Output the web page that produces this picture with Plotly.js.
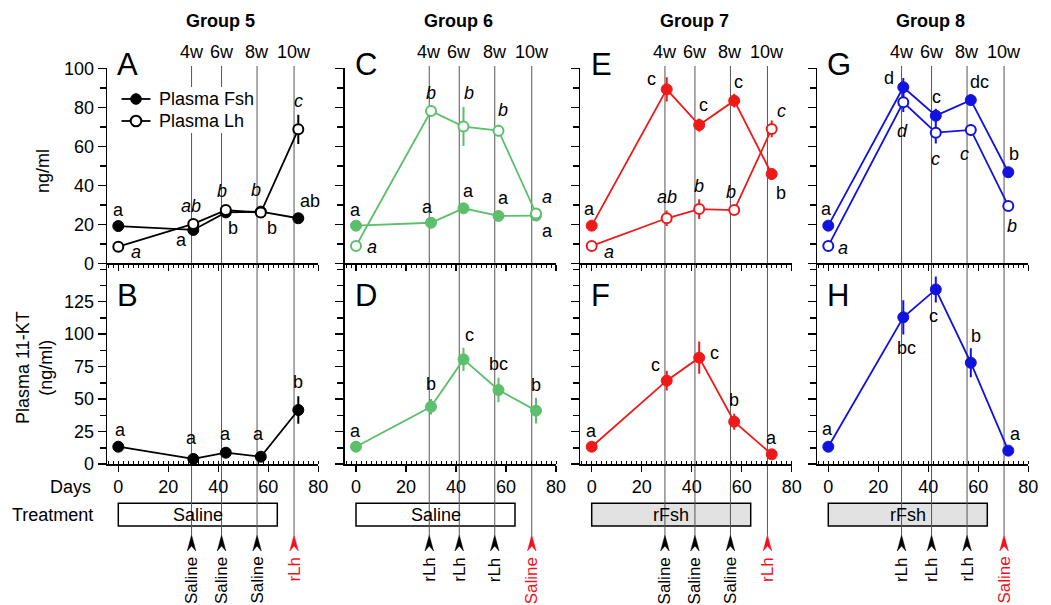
<!DOCTYPE html>
<html>
<head>
<meta charset="utf-8">
<script src="https://cdn.plot.ly/plotly-3.0.1.min.js"></script>
<style>html,body{margin:0;padding:0;background:#fff;}#chart{width:1051px;height:605px;}</style>
</head>
<body>
<div id="chart"></div>
<script>
// ---------------- DATA ----------------
const days = [0, 30, 43, 57, 72];
const injectionDays = [29.3, 41.3, 55.5, 70.3];
const weekLabels = ['4w', '6w', '8w', '10w'];
const groupNames = ['Group 5', 'Group 6', 'Group 7', 'Group 8'];
const seriesNames = ['Plasma Fsh', 'Plasma Lh'];
const topLetters = ['A', 'C', 'E', 'G'];
const bottomLetters = ['B', 'D', 'F', 'H'];
const treatmentLabels = ['Saline', 'Saline', 'rFsh', 'rFsh'];
const treatmentEnd = 63.6;
const injectionLabels = [
  ['Saline', 'Saline', 'Saline', 'rLh'],
  ['rLh', 'rLh', 'rLh', 'Saline'],
  ['Saline', 'Saline', 'Saline', 'rLh'],
  ['rLh', 'rLh', 'rLh', 'Saline']
];
const topTicks = [0, 20, 40, 60, 80, 100];
const bottomTicks = [0, 25, 50, 75, 100, 125];
const dayTicks = [0, 20, 40, 60, 80];

const fsh5 = [19.1, 17.1, 26.1, 26.5, 23.1];
const fsh5Err = [1.5, 2, 2, 2, 2];
const lh5 = [8.5, 20.2, 27.3, 26.0, 68.7];
const lh5Err = [1, 2, 2.5, 2, 7.5];
const kt5 = [13.3, 3.9, 8.7, 5.6, 41.6];
const kt5Err = [1.5, 1.5, 2, 1.5, 10.5];

const fsh6 = [19.3, 20.8, 28.2, 24.3, 24.5];
const fsh6Err = [1.5, 1.5, 2, 1.5, 1.5];
const lh6 = [8.9, 78.1, 70.1, 68.0, 25.6];
const lh6Err = [1, 2.5, 10, 3, 2];
const kt6 = [13.3, 44.1, 80.6, 57.0, 41.1];
const kt6Err = [1.5, 6, 9, 9.4, 9.9];

const fsh7 = [19.3, 89.2, 70.9, 83.4, 45.8];
const fsh7Err = [1.5, 6.2, 3.4, 3.5, 3];
const lh7 = [8.9, 23.1, 27.8, 27.3, 68.9];
const lh7Err = [1, 4, 5.1, 2, 4.3];
const kt7 = [13.3, 64.2, 81.9, 32.6, 7.5];
const kt7Err = [1.5, 7.6, 12.4, 6.2, 1.5];

const fsh8 = [19.3, 90.3, 75.7, 83.7, 46.7];
const fsh8Err = [1.5, 4.7, 3.5, 2.5, 2];
const lh8 = [8.9, 82.6, 67.0, 68.4, 29.4];
const lh8Err = [1, 5, 5.5, 3, 2];
const kt8 = [13.3, 113.0, 134.5, 78.0, 10.3];
const kt8Err = [1.5, 13.2, 10, 11.2, 1.5];

const fsh5Let = ['a', 'a', 'b', 'b', 'ab'];
const lh5Let = ['a', 'ab', 'b', 'b', 'c'];
const kt5Let = ['a', 'a', 'a', 'a', 'b'];
const fsh6Let = ['a', 'a', 'a', 'a', 'a'];
const lh6Let = ['a', 'b', 'b', 'b', 'a'];
const kt6Let = ['a', 'b', 'c', 'bc', 'b'];
const fsh7Let = ['a', 'c', 'c', 'c', 'b'];
const lh7Let = ['a', 'ab', 'b', 'b', 'c'];
const kt7Let = ['a', 'c', 'c', 'b', 'a'];
const fsh8Let = ['a', 'd', 'c', 'dc', 'b'];
const lh8Let = ['a', 'd', 'c', 'c', 'b'];
const kt8Let = ['a', 'bc', 'c', 'b', 'a'];

// ---------------- STYLE / LAYOUT CONFIG ----------------
const colors = ['#000000', '#5cbf6c', '#ee1a1a', '#1212e0'];
const groups = [
  {fsh: fsh5, fshErr: fsh5Err, lh: lh5, lhErr: lh5Err, kt: kt5, ktErr: kt5Err, fL: fsh5Let, lL: lh5Let, kL: kt5Let},
  {fsh: fsh6, fshErr: fsh6Err, lh: lh6, lhErr: lh6Err, kt: kt6, ktErr: kt6Err, fL: fsh6Let, lL: lh6Let, kL: kt6Let},
  {fsh: fsh7, fshErr: fsh7Err, lh: lh7, lhErr: lh7Err, kt: kt7, ktErr: kt7Err, fL: fsh7Let, lL: lh7Let, kL: kt7Let},
  {fsh: fsh8, fshErr: fsh8Err, lh: lh8, lhErr: lh8Err, kt: kt8, ktErr: kt8Err, fL: fsh8Let, lL: lh8Let, kL: kt8Let}
];
// letter offsets in pixels [dx, dy(up)]
const offs = [
  {f: [[0,16],[-12,-10],[7,-16],[11,-16],[12,17]], l: [[18,-5],[-2,18],[-4,19],[-5,23],[0,28]], k: [[2,17],[-2,21],[0,19],[-2,23],[0,28]]},
  {f: [[-1,16],[-4,16],[5,17],[5,18],[11,-15]], l: [[16,-1],[0,18],[5,34],[4,21],[11,16]], k: [[-1,16],[0,23],[6,24],[0,26],[0,26]]},
  {f: [[-2,17],[-15,10],[4,20],[4,19],[9,-19]], l: [[17,-6],[0,21],[0,23],[-3,18],[10,18]], k: [[0,16],[-11,16],[15,5],[0,22],[0,16]]},
  {f: [[-2,17],[-14,9],[1,19],[9,18],[6,18]], l: [[15,-2],[-1,-29],[0,-26],[-6,-24],[4,-20]], k: [[-1,18],[3,-31],[-2,-27],[5,27],[7,17]]}
];

const W = 1051, H = 605;
const FONT = '"Liberation Sans", Arial, Helvetica, sans-serif';
const zeroPx = [118.3, 356, 591.7, 828.3];
const pxPerDay = 2.5;
const xMin = -4.5, xMax = 80;
const py = p => 1 - p / H;
const px = p => p / W;
const topDom = [py(263.3), py(68.3)];
const botDom = [py(464), py(263.3)];
const botMax = 154.6;

const traces = [];
const annotations = [];
const shapes = [];
const txt = (o) => Object.assign({showarrow: false, xanchor: 'center', yanchor: 'middle'}, o);
const layout = {
  width: W, height: H, margin: {l: 0, r: 0, t: 0, b: 0},
  paper_bgcolor: '#ffffff', plot_bgcolor: 'rgba(0,0,0,0)',
  font: {family: FONT, size: 18, color: '#000'},
  showlegend: false,
  annotations: annotations, shapes: shapes
};

groups.forEach((g, gi) => {
  const nT = 2 * gi + 1, nB = 2 * gi + 2;
  const xl = (zeroPx[gi] + xMin * pxPerDay) / W;
  const xr = (zeroPx[gi] + xMax * pxPerDay) / W;
  const col = colors[gi];
  const axBase = {showline: true, linecolor: '#000', linewidth: 1.5, showgrid: false, zeroline: false,
                  tickcolor: '#000', tickwidth: 1.5, tickfont: {size: 18, family: FONT}};
  layout['xaxis' + nT] = Object.assign({}, axBase, {domain: [xl, xr], range: [xMin, xMax], anchor: 'y' + nT,
    ticks: 'outside', ticklen: 6, tickmode: 'array', tickvals: dayTicks, showticklabels: false,
    minor: {tickmode: 'linear', dtick: 2, tick0: 0, ticks: 'outside', ticklen: 3, tickwidth: 1, tickcolor: '#000'}});
  layout['xaxis' + nB] = Object.assign({}, axBase, {domain: [xl, xr], range: [xMin, xMax], anchor: 'y' + nB,
    ticks: 'outside', ticklen: 6, tickmode: 'array', tickvals: dayTicks, showticklabels: true,
    minor: {tickmode: 'linear', dtick: 2, tick0: 0, ticks: 'inside', ticklen: 3, tickwidth: 1, tickcolor: '#000'}});
  layout['yaxis' + nT] = Object.assign({}, axBase, {domain: topDom, range: [0, 100], anchor: 'x' + nT,
    ticks: 'outside', ticklen: 8, tickmode: 'array', tickvals: topTicks, showticklabels: gi === 0,
    minor: {tickmode: 'linear', dtick: 10, tick0: 0, ticks: 'outside', ticklen: 6, tickwidth: 1.5, tickcolor: '#000'}});
  layout['yaxis' + nB] = Object.assign({}, axBase, {domain: botDom, range: [0, botMax], anchor: 'x' + nB,
    ticks: 'outside', ticklen: 8, tickmode: 'array', tickvals: bottomTicks, showticklabels: gi === 0,
    minor: {tickmode: 'linear', dtick: 12.5, tick0: 0, ticks: 'outside', ticklen: 6, tickwidth: 1.5, tickcolor: '#000'}});

  const errStyle = arr => ({type: 'data', array: arr, visible: true, color: col, thickness: 2, width: 0});
  traces.push({x: days, y: g.fsh, error_y: errStyle(g.fshErr), mode: 'lines+markers', name: seriesNames[0],
    line: {color: col, width: 1.8},
    marker: {size: 11, color: col, line: {color: col, width: 1}}, xaxis: 'x' + nT, yaxis: 'y' + nT, cliponaxis: false});
  traces.push({x: days, y: g.lh, error_y: errStyle(g.lhErr), mode: 'lines+markers', name: seriesNames[1],
    line: {color: col, width: 1.8},
    marker: {size: 10, color: '#ffffff', line: {color: col, width: 2}}, xaxis: 'x' + nT, yaxis: 'y' + nT, cliponaxis: false});
  traces.push({x: days, y: g.kt, error_y: errStyle(g.ktErr), mode: 'lines+markers', name: 'Plasma 11-KT',
    line: {color: col, width: 1.8},
    marker: {size: 11, color: col, line: {color: col, width: 1}}, xaxis: 'x' + nB, yaxis: 'y' + nB, cliponaxis: false});

  // significance letters
  const addLetters = (vals, lets, off, n, italic) => {
    vals.forEach((v, i) => {
      annotations.push(txt({xref: 'x' + n, yref: 'y' + n, x: days[i], y: v,
        text: italic ? '<i>' + lets[i] + '</i>' : lets[i],
        xshift: off[i][0], yshift: off[i][1], font: {size: 18, family: FONT, color: '#000'}}));
    });
  };
  addLetters(g.fsh, g.fL, offs[gi].f, nT, false);
  addLetters(g.lh, g.lL, offs[gi].l, nT, true);
  addLetters(g.kt, g.kL, offs[gi].k, nB, false);

  // group title
  annotations.push(txt({xref: 'x' + nT, yref: 'paper', x: 41, y: py(21), text: '<b>' + groupNames[gi] + '</b>',
    font: {size: 18, family: FONT}}));
  // panel letters
  annotations.push(txt({xref: 'x' + nT, yref: 'paper', x: 0, y: py(64), xanchor: 'left', xshift: -3,
    text: topLetters[gi], font: {size: 31, family: FONT}}));
  annotations.push(txt({xref: 'x' + nB, yref: 'paper', x: 0, y: py(295.5), xanchor: 'left', xshift: -3,
    text: bottomLetters[gi], font: {size: 31, family: FONT}}));

  // treatment box
  const gray = treatmentLabels[gi] === 'rFsh';
  shapes.push({type: 'rect', xref: 'x' + nB, yref: 'paper', x0: 0, x1: treatmentEnd, y0: py(526), y1: py(503.3),
    line: {color: '#000', width: 1.5}, fillcolor: gray ? '#e2e2e2' : '#ffffff', layer: 'below'});
  annotations.push(txt({xref: 'x' + nB, yref: 'paper', x: treatmentEnd / 2, y: py(514.7), text: treatmentLabels[gi],
    font: {size: 18, family: FONT}}));

  injectionDays.forEach((d, k) => {
    // vertical line
    shapes.push({type: 'line', xref: 'x' + nB, yref: 'paper', x0: d, x1: d, y0: py(535), y1: py(66),
      line: {color: '#555555', width: 1}, layer: 'below'});
    // week label
    annotations.push(txt({xref: 'x' + nT, yref: 'paper', x: d, y: py(52), text: weekLabels[k],
      font: {size: 18, family: FONT}}));
    const lab = injectionLabels[gi][k];
    const red = k === 3;
    const acol = red ? '#f01020' : '#000000';
    shapes.push({type: 'path', xref: 'x' + nB, yref: 'paper', xsizemode: 'pixel', ysizemode: 'pixel',
      xanchor: d, yanchor: py(535), path: 'M0,0 L-4.3,-16 L0,-11 L4.3,-16 Z',
      fillcolor: acol, line: {color: acol, width: 0.5}});
    annotations.push(txt({xref: 'x' + nB, yref: 'paper', x: d, y: py(555), yanchor: 'top', textangle: -90,
      text: lab, font: {size: 17, family: FONT, color: acol}}));
  });
});

// manual legend (panel A)
shapes.push({type: 'rect', xref: 'paper', yref: 'paper', x0: px(117), x1: px(256), y0: py(133), y1: py(87),
  fillcolor: '#ffffff', line: {width: 0}, layer: 'below'});
[99, 121].forEach((yy, i) => {
  shapes.push({type: 'line', xref: 'paper', yref: 'paper', x0: px(121.5), x1: px(150.5), y0: py(yy), y1: py(yy),
    line: {color: '#000', width: 1.8}});
  shapes.push({type: 'circle', xref: 'paper', yref: 'paper', xsizemode: 'pixel', ysizemode: 'pixel',
    xanchor: px(136), yanchor: py(yy), x0: -5.3, x1: 5.3, y0: -5.3, y1: 5.3,
    fillcolor: i === 0 ? '#000' : '#fff', line: {color: '#000', width: i === 0 ? 1 : 2}});
  annotations.push(txt({xref: 'paper', yref: 'paper', x: px(157), y: py(yy), xanchor: 'left',
    text: seriesNames[i], font: {size: 18, family: FONT}}));
});

// axis titles and row labels
annotations.push(txt({xref: 'paper', yref: 'paper', x: px(43.3), y: py(170.8), text: 'ng/ml', textangle: -90,
  font: {size: 18, family: FONT}}));
annotations.push(txt({xref: 'paper', yref: 'paper', x: px(35), y: py(368), text: 'Plasma 11-KT<br>(ng/ml)', textangle: -90,
  font: {size: 18, family: FONT}}));
annotations.push(txt({xref: 'paper', yref: 'paper', x: px(93), y: py(486.7), xanchor: 'right', text: 'Days',
  font: {size: 18, family: FONT}}));
annotations.push(txt({xref: 'paper', yref: 'paper', x: px(95), y: py(514.7), xanchor: 'right', text: 'Treatment',
  font: {size: 18, family: FONT}}));

Plotly.newPlot('chart', traces, layout, {displayModeBar: false, staticPlot: true});
</script>
</body>
</html>
